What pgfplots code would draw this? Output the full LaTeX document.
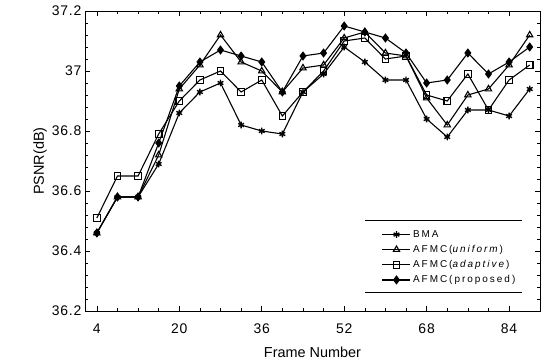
\documentclass[border=0pt]{standalone}
\usepackage{pgfplots}
\pgfplotsset{compat=1.18}
\usepackage{pgfplotstable}
\usepackage{fontspec}
\setmainfont{Liberation Sans}
\newfontfamily\tickfont[LetterSpace=6]{Liberation Sans}
\newfontfamily\legfont[LetterSpace=20]{Liberation Sans}

\pgfplotstableread{
f    bma    uni    ada    pro
4    36.46  36.46  36.51  36.46
8    36.58  36.58  36.65  36.58
12   36.58  36.58  36.65  36.58
16   36.69  36.72  36.79  36.76
20   36.86  36.94  36.90  36.95
24   36.93  37.02  36.97  37.03
28   36.96  37.12  37.00  37.07
32   36.82  37.03  36.93  37.05
36   36.80  37.00  36.97  37.03
40   36.79  36.93  36.85  36.93
44   36.93  37.01  36.93  37.05
48   36.99  37.02  37.00  37.06
52   37.08  37.11  37.10  37.15
56   37.03  37.13  37.11  37.13
60   36.97  37.06  37.04  37.11
64   36.97  37.05  37.05  37.06
68   36.84  36.91  36.92  36.96
72   36.78  36.82  36.90  36.97
76   36.87  36.92  36.99  37.06
80   36.87  36.94  36.87  36.99
84   36.85  37.02  36.97  37.03
88   36.94  37.12  37.02  37.08
}\data

\begin{document}
\begin{tikzpicture}
\begin{axis}[
  scale only axis,
  width=455bp, height=300bp,
  xmin=1.7, xmax=90,
  ymin=36.2, ymax=37.2,
  xtick={4,20,36,52,68,84},
  ytick={36.2,36.4,36.6,36.8,37,37.2},
  yticklabels={36.2,36.4,36.6,36.8,37,37.2},
  minor x tick num=3,
  minor y tick num=4,
  tick align=inside,
  major tick length=5bp,
  minor tick length=3bp,
  axis line style={line width=0.6pt},
  tick style={line width=0.5pt, black},
  /pgf/number format/assume math mode=true,
  ticklabel style={font=\tickfont\fontsize{14}{16}\selectfont},
  xticklabel style={yshift=-9bp},
  xlabel={Frame Number},
  ylabel={PSNR(dB)},
  label style={font=\fontsize{14.5}{17}\selectfont},
  xlabel style={yshift=-7bp},
  ylabel style={yshift=-2bp},
  legend style={draw=none, fill=white, font=\legfont\fontsize{10}{12}\selectfont,
    at={(0.955,0.075)}, anchor=south east, row sep=2.5bp,
    inner sep=2bp},
  legend cell align=left,
  legend image code/.code={
    \draw[mark repeat=2,mark phase=2,#1] plot coordinates {(0bp,0bp) (14bp,0bp) (28bp,0bp)};},
  every axis plot/.append style={black, line width=1.1pt, mark size=3.3bp},
]
\coordinate (bl) at (rel axis cs:0,0);
\addplot[mark=asterisk, mark options={line width=1.4pt}] table[x=f,y=bma] {\data};
\addlegendentry{BMA}
\addplot[mark=triangle, mark options={line width=1.1pt, fill=white}, mark size=3.6bp] table[x=f,y=uni] {\data};
\addlegendentry{AFMC(\textit{uniform})}
\addplot[mark=square, mark options={line width=1.1pt, fill=white}, mark size=3.3bp] table[x=f,y=ada] {\data};
\addlegendentry{AFMC(\textit{adaptive})}
\addplot[mark=diamond*, mark size=3.8bp] table[x=f,y=pro] {\data};
\addlegendentry{AFMC(proposed)}
\draw[line width=0.5pt] (axis description cs:0.615,0.303) -- (axis description cs:0.96,0.303);
\draw[line width=0.5pt] (axis description cs:0.615,0.061) -- (axis description cs:0.96,0.061);
\end{axis}
\pgfresetboundingbox
\path (bl) ++(-85bp,-52bp) rectangle ++(546bp,363bp);
\end{tikzpicture}
\end{document}
